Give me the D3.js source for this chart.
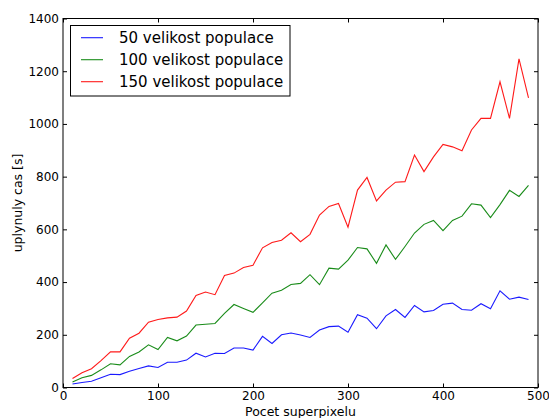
<!DOCTYPE html>
<html>
<head>
<meta charset="utf-8">
<script src="https://cdn.jsdelivr.net/npm/d3@7"></script>
<style>
  html, body { margin: 0; padding: 0; background: #fff; }
  svg { display: block; font-family: "DejaVu Sans", sans-serif; }
</style>
</head>
<body>
<script>
// Number of superpixels (x values)
const superpixels = [10,20,30,40,50,60,70,80,90,100,110,120,130,140,150,160,170,180,190,200,
  210,220,230,240,250,260,270,280,290,300,310,320,330,340,350,360,370,380,390,400,
  410,420,430,440,450,460,470,480,490];

// Elapsed time [s] for each population size
const pop50 = [13,19,24,37,50,49,62,72,82,76,96,96,104,130,116,130,129,150,150,142,
  194,167,200,207,199,190,218,231,233,210,276,263,223,272,296,266,311,287,292,316,
  320,296,293,318,299,367,335,343,334];
const pop100 = [21,37,46,67,90,86,118,135,162,144,190,177,195,237,240,243,281,315,300,285,
  321,358,369,391,395,428,390,453,449,483,531,526,471,541,486,535,586,619,634,595,
  634,650,697,692,645,694,748,725,767];
const pop150 = [34,56,71,102,135,135,187,206,248,258,264,267,290,349,362,352,425,434,455,464,
  530,550,559,587,553,581,654,687,698,608,749,797,708,749,779,781,882,819,875,922,
  913,898,977,1021,1021,1160,1021,1247,1099];

const seriesNames = ["50 velikost populace", "100 velikost populace", "150 velikost populace"];
const seriesColors = ["#0000ff", "#008000", "#ff0000"];
const xTicks = [0,100,200,300,400,500];
const yTicks = [0,200,400,600,800,1000,1200,1400];

const W = 549, H = 418;
const m = { left: 63, right: 549 - 538, top: 18.5, bottom: 418 - 387.5 };

const svg = d3.select("body").append("svg").attr("width", W).attr("height", H);

const x = d3.scaleLinear().domain([0, 500]).range([m.left, W - m.right]);
const y = d3.scaleLinear().domain([0, 1400]).range([H - m.bottom, m.top]);

const series = [pop50, pop100, pop150];
const line = d3.line().x((d, i) => x(superpixels[i])).y(d => y(d));

series.forEach((s, k) => {
  svg.append("path").datum(s)
    .attr("d", line)
    .attr("fill", "none")
    .attr("stroke", seriesColors[k])
    .attr("stroke-width", 1.1)
    .attr("stroke-opacity", 0.9);
});

// Axes: ticks point inward, mirrored on top and right
const tickLen = 4;
const axisStyle = g => {
  g.select(".domain").remove();
  g.selectAll("line").attr("stroke", "#000");
  g.selectAll("text").attr("font-size", 12).attr("fill", "#000").attr("font-family", "DejaVu Sans, sans-serif");
};

svg.append("g").attr("transform", `translate(0,${y(0)})`)
  .call(d3.axisBottom(x).tickValues(xTicks).tickSizeInner(-tickLen).tickSizeOuter(0).tickPadding(4).tickFormat(d3.format("d")))
  .call(axisStyle);
svg.append("g").attr("transform", `translate(0,${y(1400)})`)
  .call(d3.axisTop(x).tickValues(xTicks).tickSizeInner(-tickLen).tickSizeOuter(0).tickFormat(""))
  .call(axisStyle);
svg.append("g").attr("transform", `translate(${x(0)},0)`)
  .call(d3.axisLeft(y).tickValues(yTicks).tickSizeInner(-tickLen).tickSizeOuter(0).tickPadding(4).tickFormat(d3.format("d")))
  .call(axisStyle);
svg.append("g").attr("transform", `translate(${x(500)},0)`)
  .call(d3.axisRight(y).tickValues(yTicks).tickSizeInner(-tickLen).tickSizeOuter(0).tickFormat(""))
  .call(axisStyle);

// Plot frame
svg.append("rect")
  .attr("x", x(0)).attr("y", y(1400))
  .attr("width", x(500) - x(0)).attr("height", y(0) - y(1400))
  .attr("fill", "none").attr("stroke", "#000").attr("stroke-width", 1);

// Axis titles
svg.append("text")
  .attr("x", (x(0) + x(500)) / 2).attr("y", 416)
  .attr("text-anchor", "middle").attr("font-size", 12.5)
  .text("Pocet superpixelu");
svg.append("text")
  .attr("transform", `translate(22,${(y(0) + y(1400)) / 2}) rotate(-90)`)
  .attr("text-anchor", "middle").attr("font-size", 12.5)
  .text("uplynuly cas [s]");

// Legend
const lg = svg.append("g");
lg.append("rect")
  .attr("x", 70.5).attr("y", 25.5).attr("width", 219.5).attr("height", 70.5)
  .attr("fill", "#fff").attr("stroke", "#000").attr("stroke-width", 1);
seriesNames.forEach((name, k) => {
  const ly = 37.7 + k * 22;
  lg.append("line")
    .attr("x1", 81).attr("x2", 103).attr("y1", ly).attr("y2", ly)
    .attr("stroke", seriesColors[k]).attr("stroke-width", 1.1).attr("stroke-opacity", 0.9);
  lg.append("text")
    .attr("x", 119).attr("y", ly).attr("dy", "0.35em")
    .attr("font-size", 15).attr("fill", "#000")
    .text(name);
});
</script>
</body>
</html>
